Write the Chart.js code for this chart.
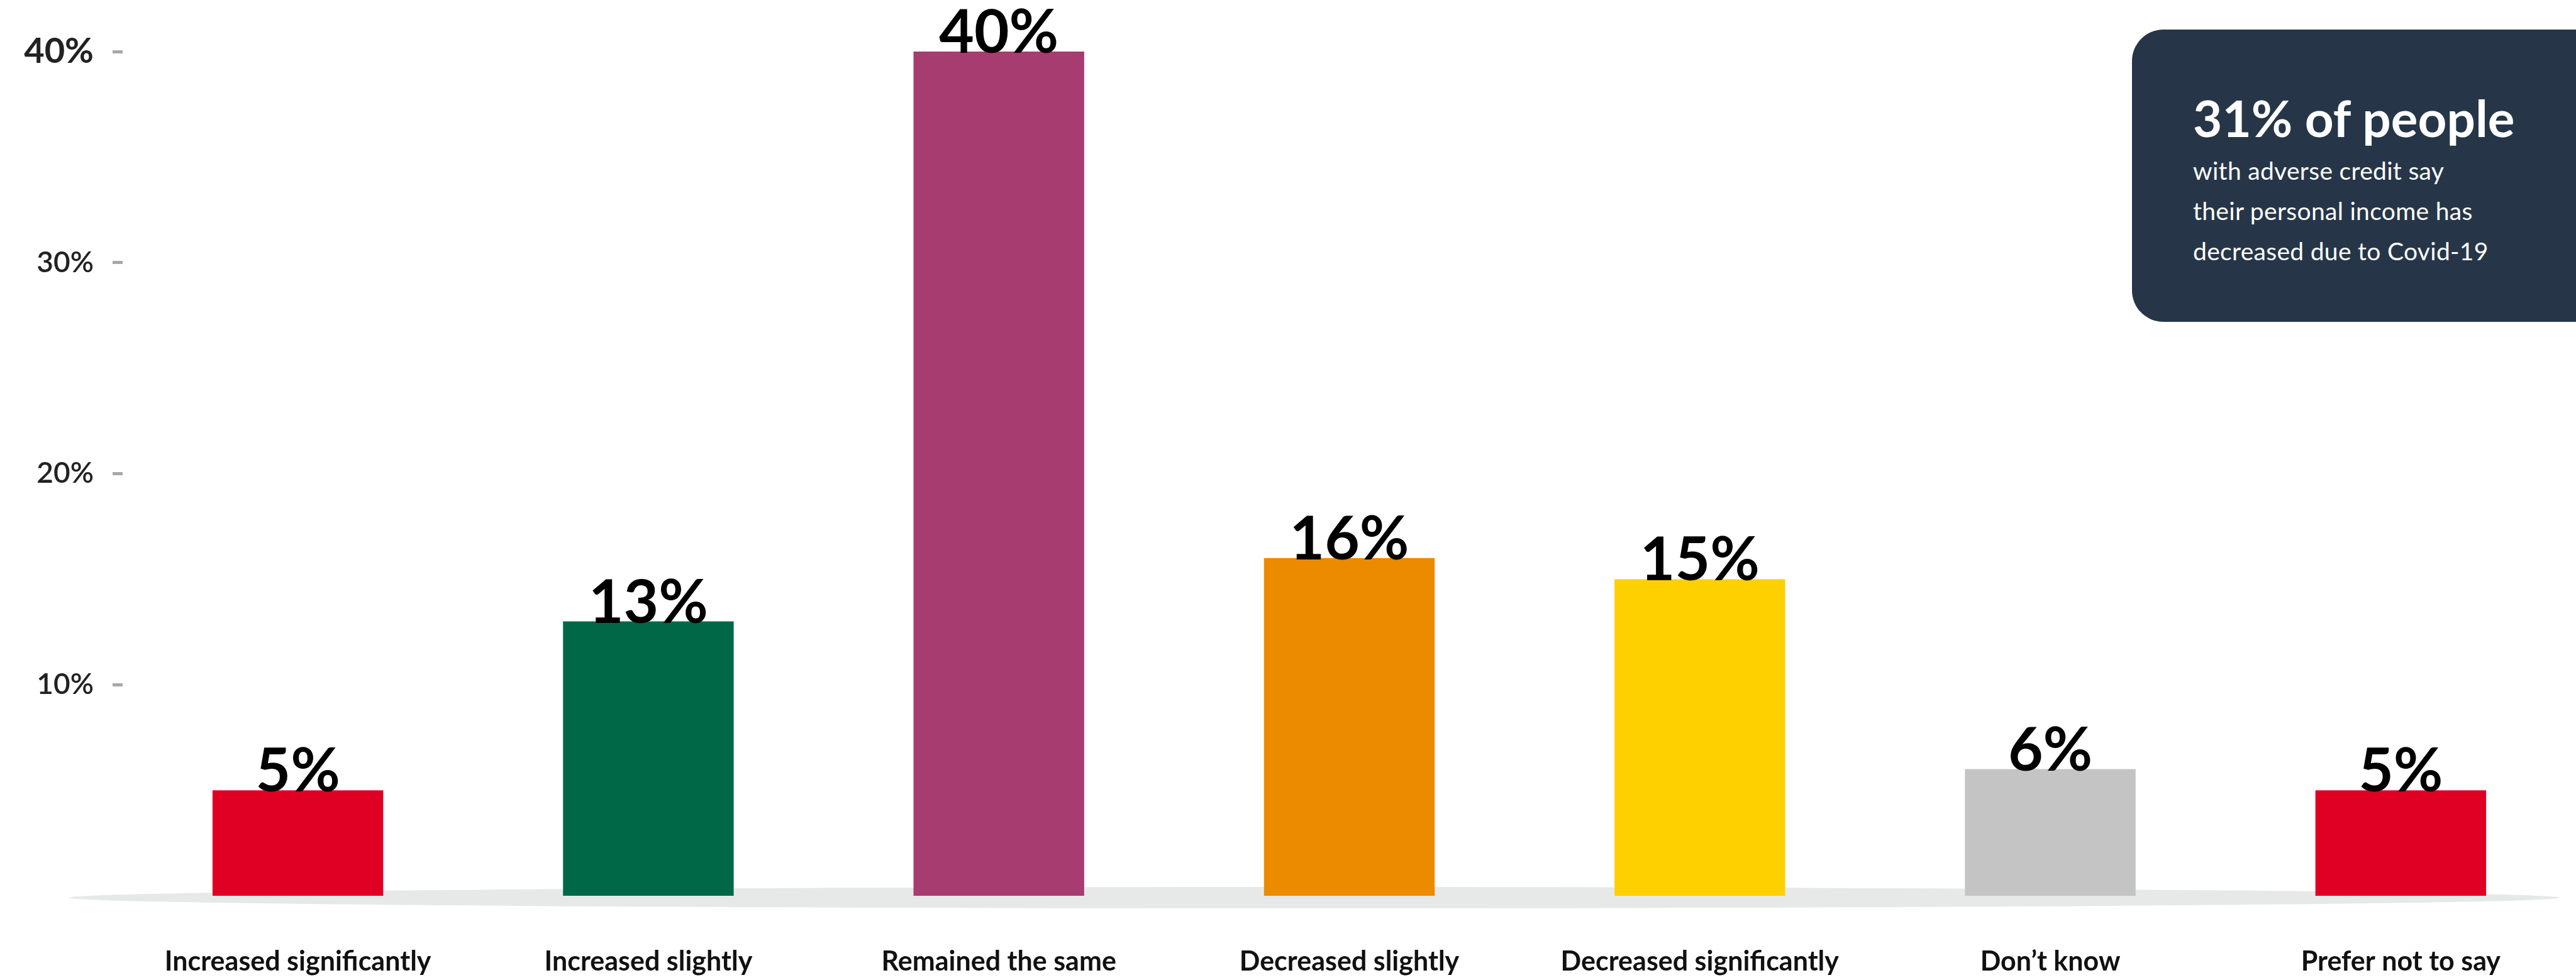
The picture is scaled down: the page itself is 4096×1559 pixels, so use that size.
<!DOCTYPE html>
<html>
<head>
<meta charset="utf-8">
<script src="https://cdn.jsdelivr.net/npm/chart.js@4.4.1/dist/chart.umd.min.js"></script>
<style>
  html, body { margin: 0; padding: 0; background: #fff; overflow: hidden; }
  #wrap { position: relative; width: 4096px; height: 1559px; }
  #incomeChart { position: absolute; left: 0; top: 0; }
  .callout {
    position: absolute; left: 3390px; top: 47px; width: 760px; height: 465px;
    background: #263648; border-radius: 50px 0 0 50px; color: #fff;
    font-family: Lato, sans-serif; box-sizing: border-box; padding: 100px 0 0 97px;
  }
  .callout h2 { margin: 0; font-size: 80px; line-height: 80px; font-weight: 700; }
  .callout p { margin: 12px 0 0 0; font-size: 39px; line-height: 64px; font-weight: 400; letter-spacing: 0.3px; }
</style>
</head>
<body>
<div id="wrap">
  <canvas id="incomeChart" width="4096" height="1559"></canvas>
  <div class="callout">
    <h2>31% of people</h2>
    <p>with adverse credit say<br>their personal income has<br>decreased due to Covid-19</p>
  </div>
</div>
<script>
// Change in personal income (people with adverse credit)
const CATEGORIES = ['Increased significantly', 'Increased slightly', 'Remained the same',
                    'Decreased slightly', 'Decreased significantly', "Don\u2019t know", 'Prefer not to say'];
const VALUES     = [5, 13, 40, 16, 15, 6, 5];
const Y_TICKS    = [10, 20, 30, 40];

const BAR_COLORS = ['#df0024', '#006847', '#a63c6f', '#ec8a00', '#ffd000', '#c4c4c4', '#df0024'];
const FONT = 'Lato, "Open Sans", sans-serif';

// pale tapered "floor" under the bars
const floorPlugin = {
  id: 'floor',
  beforeDatasetsDraw(chart) {
    const { ctx, scales: { y } } = chart;
    const y0 = y.getPixelForValue(0);
    ctx.save();
    ctx.fillStyle = '#e7e9e9';
    ctx.beginPath();
    ctx.ellipse(2090, y0 + 3, 1980, 17, 0, 0, Math.PI * 2);
    ctx.fill();
    ctx.restore();
  }
};

// big value labels sitting on the bars
const valueLabels = {
  id: 'valueLabels',
  afterDatasetsDraw(chart) {
    const { ctx } = chart;
    const meta = chart.getDatasetMeta(0);
    ctx.save();
    ctx.fillStyle = '#000';
    ctx.font = `700 96px ${FONT}`;
    ctx.textAlign = 'center';
    ctx.textBaseline = 'alphabetic';
    meta.data.forEach((bar, i) => {
      ctx.fillText(VALUES[i] + '%', bar.x, bar.y + 2);
    });
    ctx.restore();
  }
};

new Chart(document.getElementById('incomeChart'), {
  type: 'bar',
  data: {
    labels: CATEGORIES,
    datasets: [{
      data: VALUES,
      backgroundColor: BAR_COLORS,
      borderWidth: 0,
      barPercentage: 0.487,
      categoryPercentage: 1
    }]
  },
  options: {
    responsive: false,
    animation: false,
    layout: { padding: { top: 82, right: 0, bottom: 0, left: 0 } },
    plugins: { legend: { display: false }, tooltip: { enabled: false } },
    scales: {
      x: {
        grid: { display: false, drawTicks: false },
        border: { display: false },
        ticks: { color: '#111', padding: 79, font: { family: FONT, size: 43, weight: '700' }, maxRotation: 0 },
        afterFit: s => { s.height = 134; }
      },
      y: {
        min: 0, max: 40,
        afterBuildTicks: s => { s.ticks = Y_TICKS.map(v => ({ value: v })); },
        grid: { display: true, drawOnChartArea: false, drawTicks: true, tickLength: 16, tickWidth: 5, tickColor: '#a8a8a8' },
        border: { display: false },
        ticks: {
          color: '#222',
          padding: 30,
          callback: v => v + '%',
          font: ctx => (ctx.tick && ctx.tick.value === 40)
            ? { family: FONT, size: 56, weight: '700' }
            : { family: FONT, size: 46, weight: '600' }
        },
        afterFit: s => { s.width = 195; }
      }
    }
  },
  plugins: [floorPlugin, valueLabels]
});
</script>
</body>
</html>
